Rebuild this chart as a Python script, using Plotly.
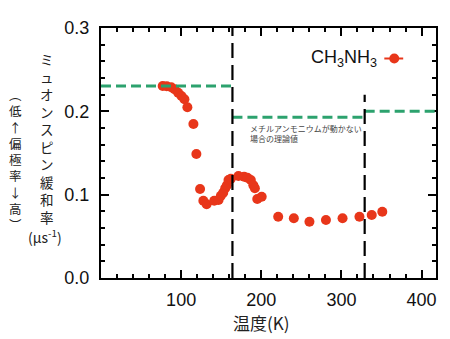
import plotly.graph_objects as go

# ---- data ----
temp_K = [77, 82, 87.6, 91.7, 96.3, 100.4, 104.1, 107.8, 115.3, 119, 123.6, 127.7,
          131.8, 141.3, 146.7, 149.6, 152.5, 155, 157.1, 159.1, 162, 171.5, 178.6,
          182.7, 186.9, 190.1, 192, 195, 200.5, 221.1, 240.6, 260.1, 280.7, 301.4,
          322.5, 337.8, 351]
relax_rate = [0.2304, 0.2300, 0.2288, 0.2264, 0.2224, 0.2184, 0.2144, 0.2048, 0.1848,
              0.1488, 0.1068, 0.0928, 0.0884, 0.0928, 0.0936, 0.0988, 0.1024, 0.1076,
              0.1112, 0.1176, 0.1190, 0.1224, 0.1216, 0.1204, 0.1176, 0.1112, 0.1076,
              0.0948, 0.0976, 0.0736, 0.0716, 0.0676, 0.0696, 0.0716, 0.0736, 0.0756,
              0.0796]

# theoretical (immobile methylammonium) levels: [x_start, x_end, value]
theory_x0 = [0, 164, 329]
theory_x1 = [164, 329, 418]
theory_val = [0.2305, 0.193, 0.200]

# phase transition lines
trans_x = [164, 329]
trans_top = [0.30, 0.22]

x_tickvals = [100, 200, 300, 400]
y_tickvals = [0.0, 0.1, 0.2, 0.3]

series_label = "CH<sub>3</sub>NH<sub>3</sub>"
ytitle_main = "ミュオンスピン緩和率"
ytitle_sub = "︵低↑偏極率↓高︶"
note_text = "メチルアンモニウムが動かない<br>場合の理論値"

RED = "#e8361a"
GREEN = "#2ca26e"
JP = "Noto Sans CJK JP"
LAT = "Liberation Sans"

W, H = 450, 339
L, R, T, B = 101, 12, 28, 61
PW, PH = W - L - R, H - T - B

def xp(px):
    return (px - L) / PW

def yp(py):
    return (H - B - py) / PH

fig = go.Figure()

fig.add_trace(go.Scatter(
    x=temp_K, y=relax_rate, mode="markers",
    marker=dict(color=RED, size=10, line=dict(width=0)),
    showlegend=False, hoverinfo="skip"))

shapes = []
for a, b, v in zip(theory_x0, theory_x1, theory_val):
    shapes.append(dict(type="line", xref="x", yref="y", x0=a, x1=b, y0=v, y1=v,
                       line=dict(color=GREEN, width=3, dash="10px,5px")))
for xv, top in zip(trans_x, trans_top):
    shapes.append(dict(type="line", xref="x", yref="y", x0=xv, x1=xv, y0=0, y1=top,
                       line=dict(color="black", width=2.2, dash="15px,7px")))
# legend symbol
shapes.append(dict(type="line", xref="paper", yref="paper",
                   x0=xp(386), x1=xp(405), y0=yp(58.5), y1=yp(58.5),
                   line=dict(color=RED, width=2)))
shapes.append(dict(type="circle", xref="paper", yref="paper",
                   x0=xp(391), x1=xp(401), y0=yp(63.5), y1=yp(53.5),
                   fillcolor=RED, line=dict(width=0)))

annotations = []
annotations.append(dict(xref="paper", yref="paper", x=xp(381), y=yp(58),
                        xanchor="right", yanchor="middle", showarrow=False,
                        text=series_label, font=dict(family=LAT, size=18, color="#111")))
annotations.append(dict(xref="paper", yref="paper", x=xp(249), y=yp(121),
                        xanchor="left", yanchor="top", showarrow=False, align="left",
                        text=note_text, font=dict(family=JP, size=8, color="#444")))
# vertical y title (main column), one character per line
annotations.append(dict(xref="paper", yref="paper", x=xp(47), y=yp(47),
                        xanchor="center", yanchor="top", showarrow=False,
                        text="<br>".join(ytitle_main),
                        font=dict(family=JP, size=13.5, color="#222")))
annotations.append(dict(xref="paper", yref="paper", x=xp(45), y=yp(236),
                        xanchor="center", yanchor="middle", showarrow=False,
                        text="(μs<sup>-1</sup>)", font=dict(family=JP, size=14, color="#222")))
annotations.append(dict(xref="paper", yref="paper", x=xp(15), y=yp(83),
                        xanchor="center", yanchor="top", showarrow=False,
                        text="<br>".join(ytitle_sub),
                        font=dict(family=JP, size=12.5, color="#222")))
annotations.append(dict(xref="paper", yref="paper", x=xp(262), y=yp(322),
                        xanchor="center", yanchor="middle", showarrow=False,
                        text="温度(K)", font=dict(family=JP, size=17, color="#222")))

axis_common = dict(showgrid=False, zeroline=False, showline=True, linecolor="black",
                   linewidth=2, mirror="allticks", ticks="inside", ticklen=8,
                   tickwidth=1.5, tickcolor="black",
                   tickfont=dict(family=LAT, size=18, color="#111"))

fig.update_layout(
    width=W, height=H, margin=dict(l=L, r=R, t=T, b=B),
    paper_bgcolor="white", plot_bgcolor="white",
    shapes=shapes, annotations=annotations, showlegend=False,
    xaxis=dict(range=[0, 418], tickvals=x_tickvals,
               minor=dict(dtick=20, tick0=0, ticks="inside", ticklen=4,
                          tickwidth=1.5, tickcolor="black"),
               ticklabelstandoff=4, **axis_common),
    yaxis=dict(range=[0, 0.3], tickvals=y_tickvals, tickformat=".1f",
               minor=dict(dtick=0.02, tick0=0, ticks="inside", ticklen=4,
                          tickwidth=1.5, tickcolor="black"),
               ticklabelstandoff=6, **axis_common),
)

fig.write_html("out.html")
